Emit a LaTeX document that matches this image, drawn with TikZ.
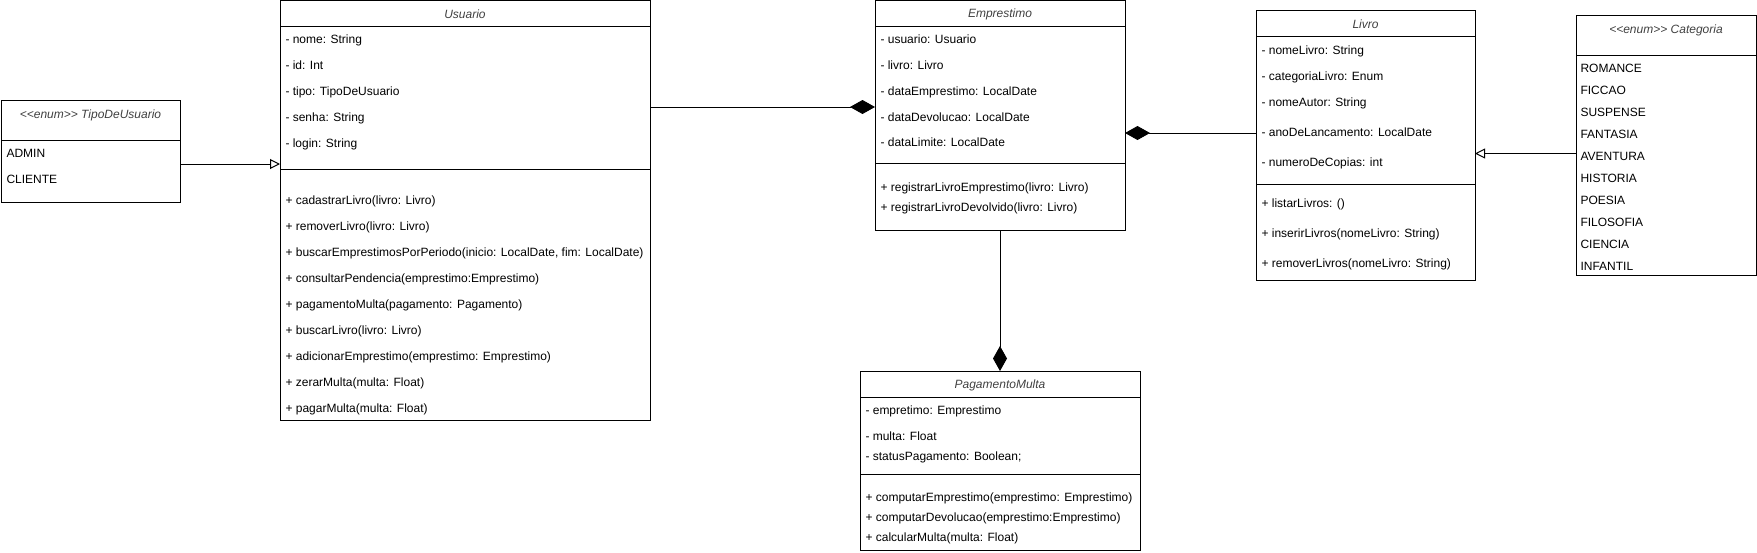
\documentclass[tikz,border=0pt]{standalone}
\usepackage{fontspec}
\setmainfont{Liberation Sans}
\usetikzlibrary{arrows,arrows.meta,positioning,fit}

\tikzset{
  classbox/.style={draw, inner sep=0pt, outer sep=0pt},
  ctitle/.style={inner sep=0pt, yshift=-1.5pt, text=black!75, font=\fontsize{12}{14}\selectfont\itshape},
  member/.style={anchor=west, inner sep=0pt, yshift=-1.5pt, text height=8.6pt, text depth=2.5pt, font=\fontsize{12}{14}\selectfont},
  compose/.style={-{Diamond[length=25pt,width=14pt]}},
  inherit/.style={-{Triangle[open,length=10pt,width=10pt]}},
}

\begin{document}
\begin{tikzpicture}[x=1pt,y=-1pt,line width=1pt]
    \useasboundingbox (0,0) rectangle (1757,552);

    % TipoDeUsuario
    \node[classbox, fit={(1,100) (180,202)}] (tipo) {};
    \draw (tipo.west |- 0,140) -- (tipo.east |- 0,140);
    \node[ctitle] (tipo-t) at (tipo.north |- 0,114) {<{}<enum>{}> TipoDeUsuario};
    \foreach \y/\t [count=\i] in {153/ADMIN,179/CLIENTE}{
      \node[member] (tipo-a\i) at (6,\y) {\t};
    }

    % Usuario
    \node[classbox, fit={(280,0.5) (650,420)}] (usuario) {};
    \draw (usuario.west |- 0,26) -- (usuario.east |- 0,26);
    \draw (usuario.west |- 0,169) -- (usuario.east |- 0,169);
    \node[ctitle] (usuario-t) at (usuario.north |- 0,13) {Usuario};
    \foreach \y/\t [count=\i] in {39/{- nome: String},65/{- id: Int},91/{- tipo: TipoDeUsuario},
        117/{- senha: String},143/{- login: String}}{
      \node[member] (usuario-a\i) at (285,\y) {\t};
    }
    \foreach \y/\t [count=\i] in {200/{+ cadastrarLivro(livro: Livro)},226/{+ removerLivro(livro: Livro)},
        252/{+ buscarEmprestimosPorPeriodo(inicio: LocalDate, fim: LocalDate)},
        278/{+ consultarPendencia(emprestimo:Emprestimo)},304/{+ pagamentoMulta(pagamento: Pagamento)},
        330/{+ buscarLivro(livro: Livro)},356/{+ adicionarEmprestimo(emprestimo: Emprestimo)},
        382/{+ zerarMulta(multa: Float)},408/{+ pagarMulta(multa: Float)}}{
      \node[member] (usuario-m\i) at (285,\y) {\t};
    }

    % Emprestimo
    \node[classbox, fit={(875,0.5) (1125,230)}] (emprestimo) {};
    \draw (emprestimo.west |- 0,26) -- (emprestimo.east |- 0,26);
    \draw (emprestimo.west |- 0,163) -- (emprestimo.east |- 0,163);
    \node[ctitle] (emprestimo-t) at (emprestimo.north |- 0,13) {Emprestimo};
    \foreach \y/\t [count=\i] in {39/{- usuario: Usuario},65/{- livro: Livro},91/{- dataEmprestimo: LocalDate},
        117/{- dataDevolucao: LocalDate},142/{- dataLimite: LocalDate}}{
      \node[member] (emprestimo-a\i) at (880,\y) {\t};
    }
    \foreach \y/\t [count=\i] in {187/{+ registrarLivroEmprestimo(livro: Livro)},
        207/{+ registrarLivroDevolvido(livro: Livro)}}{
      \node[member] (emprestimo-m\i) at (880,\y) {\t};
    }

    % Livro
    \node[classbox, fit={(1256,10) (1475,280)}] (livro) {};
    \draw (livro.west |- 0,36) -- (livro.east |- 0,36);
    \draw (livro.west |- 0,184) -- (livro.east |- 0,184);
    \node[ctitle] (livro-t) at (livro.north |- 0,23) {Livro};
    \foreach \y/\t [count=\i] in {50/{- nomeLivro: String},76/{- categoriaLivro: Enum},102/{- nomeAutor: String},
        132/{- anoDeLancamento: LocalDate},162/{- numeroDeCopias: int}}{
      \node[member] (livro-a\i) at (1261,\y) {\t};
    }
    \foreach \y/\t [count=\i] in {203/{+ listarLivros: ()},233/{+ inserirLivros(nomeLivro: String)},
        263/{+ removerLivros(nomeLivro: String)}}{
      \node[member] (livro-m\i) at (1261,\y) {\t};
    }

    % Categoria
    \node[classbox, fit={(1576,15.5) (1756,275)}] (categoria) {};
    \draw (categoria.west |- 0,55) -- (categoria.east |- 0,55);
    \node[ctitle] (categoria-t) at (categoria.north |- 0,29) {<{}<enum>{}> Categoria};
    \foreach \y/\t [count=\i] in {68/ROMANCE,90/FICCAO,112/SUSPENSE,134/FANTASIA,156/AVENTURA,
        178/HISTORIA,200/POESIA,222/FILOSOFIA,244/CIENCIA,266/INFANTIL}{
      \node[member] (categoria-a\i) at (1580,\y) {\t};
    }

    % PagamentoMulta
    \node[classbox, fit={(860,371) (1140,550)}] (pagamento) {};
    \draw (pagamento.west |- 0,397) -- (pagamento.east |- 0,397);
    \draw (pagamento.west |- 0,474) -- (pagamento.east |- 0,474);
    \node[ctitle] (pagamento-t) at (pagamento.north |- 0,384) {PagamentoMulta};
    \foreach \y/\t [count=\i] in {410/{- empretimo: Emprestimo},436/{- multa: Float},
        456/{- statusPagamento: Boolean;}}{
      \node[member] (pagamento-a\i) at (865,\y) {\t};
    }
    \foreach \y/\t [count=\i] in {497/{+ computarEmprestimo(emprestimo: Emprestimo)},
        517/{+ computarDevolucao(emprestimo:Emprestimo)},537/{+ calcularMulta(multa: Float)}}{
      \node[member] (pagamento-m\i) at (865,\y) {\t};
    }

    % relations
    \draw[inherit] (tipo.east |- 0,164) -- (usuario.west |- 0,164);
    \draw[compose] (usuario.east |- 0,107) -- (emprestimo.west |- 0,107);
    \draw[compose] (livro.west |- 0,133) -- (emprestimo.east |- 0,133);
    \draw[inherit] (categoria.west |- 0,153.5) -- (livro.east |- 0,153.5);
    \draw[compose] (emprestimo.south) -- (pagamento.north);
\end{tikzpicture}
\end{document}
